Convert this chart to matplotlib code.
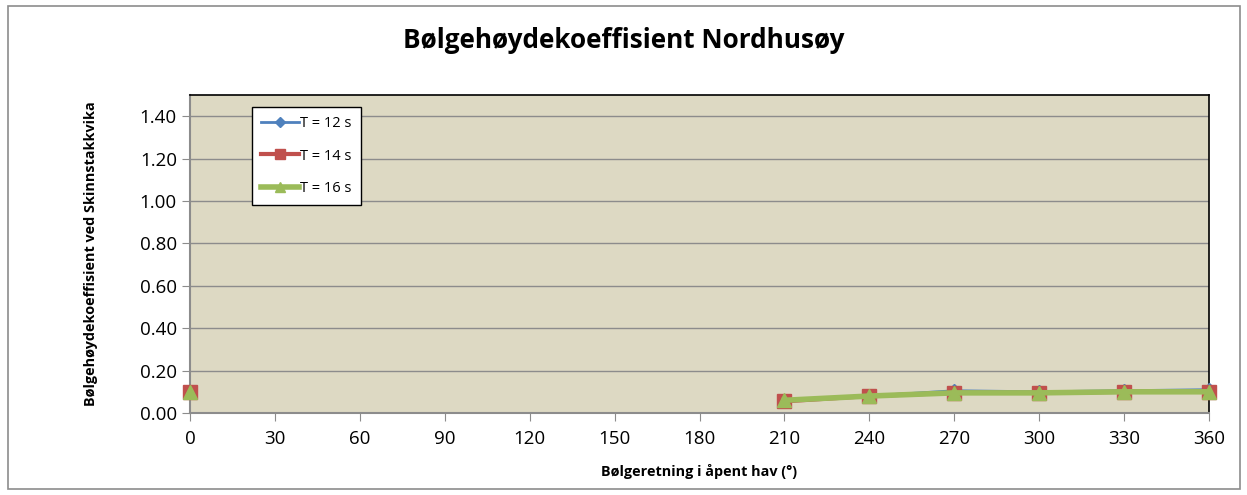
import numpy as np
import matplotlib.pyplot as plt
from matplotlib.patches import Rectangle

# retning (grader) og koeffisienter, NaN der data mangler
retning = [0, 30, 60, 90, 120, 150, 180, 210, 240, 270, 300, 330, 360]
t12 = [0.10, np.nan, np.nan, np.nan, np.nan, np.nan, np.nan, 0.055, 0.08, 0.105, 0.10, 0.105, 0.11]
t14 = [0.10, np.nan, np.nan, np.nan, np.nan, np.nan, np.nan, 0.055, 0.08, 0.095, 0.095, 0.10, 0.10]
t16 = [0.10, np.nan, np.nan, np.nan, np.nan, np.nan, np.nan, 0.06, 0.08, 0.095, 0.095, 0.10, 0.10]
labels = ['T = 12 s', 'T = 14 s', 'T = 16 s']
yticks = [0.0, 0.2, 0.4, 0.6, 0.8, 1.0, 1.2, 1.4]

plt.rcParams['font.family'] = ['Open Sans', 'DejaVu Sans']

fig = plt.figure(figsize=(12.47, 4.95), dpi=100)
fig.patches.append(Rectangle((8/1247, 6/495), 1232/1247, 483/495, transform=fig.transFigure,
                             fill=False, edgecolor='#8c8c8c', linewidth=1.2))
ax = fig.add_axes([190/1247, 82/495, 1019/1247, 318/495])
ax.set_facecolor('#DDD9C3')

ax.plot(retning, t12, color='#4F81BD', lw=2, marker='D', ms=7, label=labels[0], clip_on=False, zorder=3)
ax.plot(retning, t14, color='#C0504D', lw=3, marker='s', ms=10, label=labels[1], clip_on=False, zorder=4)
ax.plot(retning, t16, color='#9BBB59', lw=4, marker='^', ms=10, label=labels[2], clip_on=False, zorder=5)

ax.set_xlim(0, 360)
ax.set_ylim(0, 1.5)
ax.set_xticks(retning)
ax.set_yticks(yticks)
ax.set_yticklabels(['%.2f' % v for v in yticks])
ax.tick_params(labelsize=13.5, length=6, color='#8c8c8c')
ax.tick_params(axis='x', pad=6)
ax.yaxis.grid(True, color='#8c8c8c', lw=1)
ax.set_axisbelow(True)
for s in ['left', 'bottom']:
    ax.spines[s].set_color('#8c8c8c')
    ax.spines[s].set_linewidth(1.5)
for s in ['top', 'right']:
    ax.spines[s].set_color('black')
    ax.spines[s].set_linewidth(1.2)

ax.set_xlabel('Bølgeretning i åpent hav (°)', fontsize=10.4, fontweight='bold', labelpad=12)
ax.set_ylabel('Bølgehøydekoeffisient ved Skinnstakkvika', fontsize=10.4, fontweight='bold', labelpad=30)
fig.suptitle('Bølgehøydekoeffisient Nordhusøy', fontsize=18.8, fontweight='bold', y=0.945)

leg = ax.legend(loc='upper left', bbox_to_anchor=(55/1019, 1 - 5/318), fontsize=10.5,
                fancybox=False, edgecolor='black', framealpha=1, handlelength=2.6,
                handletextpad=0.1, labelspacing=1.2, borderpad=0.6, markerscale=0.7)
leg.get_frame().set_linewidth(1)

plt.savefig('out.png', dpi=100)
